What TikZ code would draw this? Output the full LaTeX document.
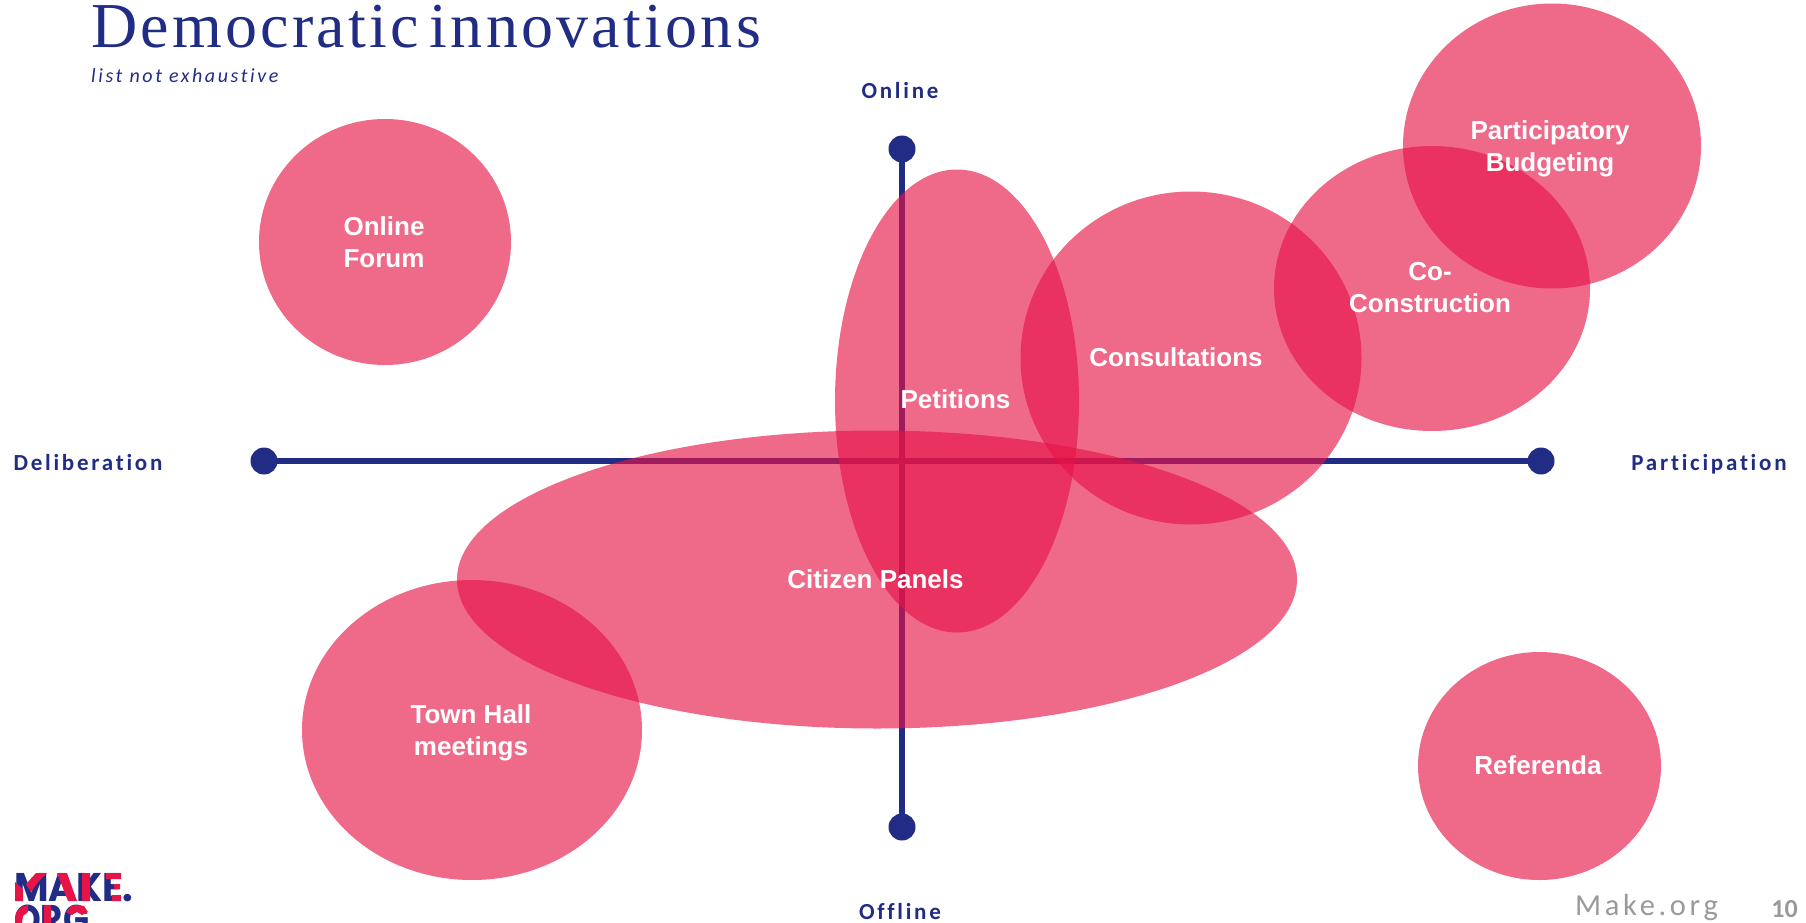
\documentclass[tikz,border=0pt]{standalone}
\usepackage{fontspec}
\setmainfont{Liberation Sans}
\newfontfamily\titlefont[LetterSpace=5.1,WordSpace=0.55]{Liberation Serif}
\newfontfamily\axisfont[LetterSpace=12,Ligatures=NoCommon]{Carlito}
\newfontfamily\subfont[LetterSpace=13,Ligatures=NoCommon]{Carlito}
\newfontfamily\footfont[LetterSpace=12,Ligatures=NoCommon]{Carlito}
\newfontfamily\numfont{Carlito}
\newfontfamily\logofont{Poppins}
\definecolor{navy}{HTML}{212C85}
\definecolor{rosered}{HTML}{E61447}
\definecolor{footgrey}{HTML}{9A9A9A}
\usetikzlibrary{shapes.geometric}
\tikzset{
  x=1pt,y=-1pt,
  blob/.style={ellipse,draw=none,fill=rosered,fill opacity=.64,inner sep=0pt},
  lab/.style={text=white,font=\fontsize{26}{32}\selectfont\bfseries,align=center,inner sep=0pt},
  dot/.style={circle,fill=navy,minimum size=27pt,inner sep=0pt},
  axislab/.style={anchor=base,text=navy,font=\fontsize{23}{25}\selectfont\axisfont\bfseries,inner sep=0pt},
  axisline/.style={draw=navy,line width=6pt},
  logotext/.style={anchor=base west,inner sep=0pt,text=navy,font=\fontsize{40}{40}\selectfont\logofont\bfseries}
}
\begin{document}
\begin{tikzpicture}
\useasboundingbox (0,0) rectangle (1806,923);
\clip (0,0) rectangle (1806,923);
% axes
\node[dot] (left) at (264,461) {};
\node[dot] (right) at (1541,461) {};
\node[dot] (top) at (902,149) {};
\node[dot] (bottom) at (902,827) {};
\draw[axisline] (left.center) -- (right.center);
\draw[axisline] (top.center) -- (bottom.center);
% blobs
\node[blob,minimum width=252pt,minimum height=246pt] (forum) at (385,242) {};
\node[blob,minimum width=316pt,minimum height=285pt] (cocon) at (1432,288.5) {};
\node[blob,minimum width=341pt,minimum height=333pt] (consult) at (1191,358) {};
\node[blob,minimum width=244pt,minimum height=463pt] (petit) at (957,401) {};
\node[blob,minimum width=840pt,minimum height=298pt] (panels) at (877,579.5) {};
\node[blob,minimum width=340pt,minimum height=300pt] (town) at (472,730) {};
\node[blob,minimum width=243pt,minimum height=228pt] (refer) at (1539.5,766) {};
\node[blob,minimum width=298pt,minimum height=285pt] (budget) at (1552,146) {};
% labels
\node[lab] (lforum) at (384,242) {Online\\Forum};
\node[lab] (lbudget) at (1550,149) {Participatory\\Budgeting};
\node[lab] (lcocon) at (1430,288) {Co-\\Construction};
\node[lab] (lconsult) at (1176,357) {Consultations};
\node[lab] (lpetit) at (955.5,399) {Petitions};
\node[lab] (lpanels) at (875.5,579) {Citizen Panels};
\node[lab] (ltown) at (471,732.5) {Town Hall\\meetings};
\node[lab] (lrefer) at (1538,765) {Referenda};
% titles
\node[anchor=base west,inner sep=0pt,text=navy,font=\fontsize{64}{64}\selectfont\titlefont] (title) at (91,48) {Democratic innovations};
\node[anchor=base west,inner sep=0pt,text=navy,font=\fontsize{20}{24}\selectfont\subfont\itshape] (sub) at (91,83) {list not exhaustive};
\node[axislab] (on) at (900,99) {Online};
\node[axislab] (off) at (900,919) {Offline};
\node[axislab] (del) at (88,470) {Deliberation};
\node[axislab] (par) at (1709,470) {Participation};
\node[anchor=base west,inner sep=0pt,text=footgrey,font=\fontsize{30.5}{30}\selectfont\footfont] (mk) at (1575,915) {Make.org};
\node[anchor=base east,inner sep=0pt,text=footgrey,font=\fontsize{26}{26}\selectfont\numfont\bfseries] (num) at (1798,917) {10};
% logo
\node[logotext,xscale=.94] (mk1) at (14,901) {MAKE.};
\node[logotext,xscale=.85] (mk2) at (14,933) {ORG};
\fill[rosered] (15,882) -- (23,889) -- (23,901) -- (15,901) -- cycle
  (36,873) -- (47,873) -- (39,881) -- (31,892) -- (26,884) -- cycle
  (57,873) -- (67,873) -- (77,901) -- (68,901) -- cycle
  (82,873) -- (90,873) -- (90,901) -- (82,901) -- cycle
  (106,873) -- (121,873) -- (121,879) -- (106,879) -- cycle
  (114,884) -- (120,884) -- (120,889) -- (114,889) -- cycle
  (112,895) -- (121,895) -- (121,901) -- (112,901) -- cycle
  (28,905) -- (21,907) -- (16,913) -- (15,923) -- (22,923) -- (23,916) -- (28,912) -- cycle
  (44,905) -- (51,905) -- (51,923) -- (44,923) -- cycle
  (66,912) -- (71,906) -- (77,905) -- (84,906) -- (88,912) -- (82,915) -- (77,912) -- (72,915) -- cycle;
\end{tikzpicture}
\end{document}
